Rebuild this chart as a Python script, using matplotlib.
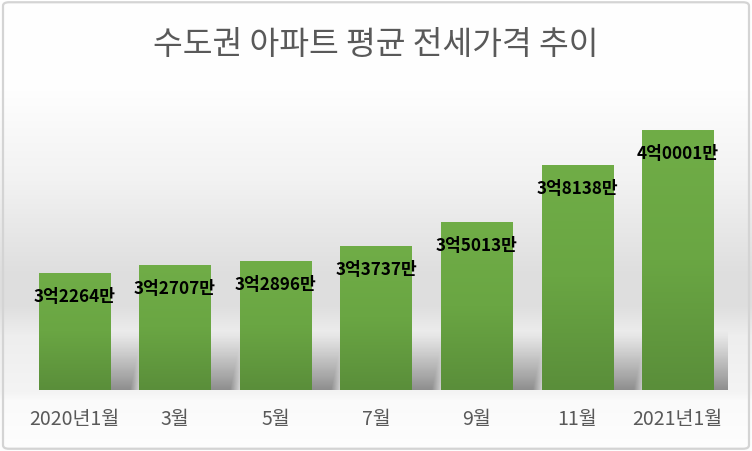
import numpy as np
import matplotlib
matplotlib.use('Agg')
import matplotlib.pyplot as plt
from matplotlib.patches import FancyBboxPatch
from matplotlib.colors import LinearSegmentedColormap

plt.rcParams['font.family'] = ['Noto Sans CJK KR', 'DejaVu Sans']

# ---- data ----
title = '수도권 아파트 평균 전세가격 추이'
categories = ['2020년1월', '3월', '5월', '7월', '9월', '11월', '2021년1월']
values = [32264, 32707, 32896, 33737, 35013, 38138, 40001]   # 만원
value_labels = ['3억2264만', '3억2707만', '3억2896만', '3억3737만',
                '3억5013만', '3억8138만', '4억0001만']

W, H = 752, 451
fig = plt.figure(figsize=(W / 100, H / 100), dpi=100)

# ---- background gradient ----
bg = fig.add_axes([0, 0, 1, 1], zorder=0)
bg.set_axis_off()
ys = np.arange(H)
prof = np.interp(ys, [0, 90, 180, 270, 305, 335, 392, 400, 451],
                 [255, 254, 242, 223, 222, 238, 244, 250, 254]) / 255.0
img = np.repeat(prof[:, None], 2, axis=1)
bg.imshow(np.dstack([img] * 3), aspect='auto', extent=[0, 1, 0, 1], origin='upper')
bg.set_xlim(0, 1)
bg.set_ylim(0, 1)
bg.add_patch(FancyBboxPatch((0.004, 0.005), 0.992, 0.99,
                            boxstyle='round,pad=0,rounding_size=0.008',
                            transform=bg.transAxes, fill=False,
                            ec='#d4d4d4', lw=1.6))

# ---- main axes ----
ax_left, ax_right, ax_bottom, ax_top = 24, 728, 390, 90
ax = fig.add_axes([ax_left / W, (H - ax_bottom) / H,
                   (ax_right - ax_left) / W, (ax_bottom - ax_top) / H], zorder=1)
ax.patch.set_alpha(0)
ymin, ymax = 25900, 42200
x = np.arange(len(categories))
bw = 0.706

bars = ax.bar(x, np.array(values) - ymin, bottom=ymin, width=bw,
              color='#68a443', zorder=3)

dx = 1.0 / ((ax_right - ax_left) / len(categories))     # data per px (x)
dy = (ymax - ymin) / (ax_bottom - ax_top)               # data per px (y)

# shadows
sh_h = 60
for xi in x:
    wpx = bw / dx
    ext_px = 70
    nu = int(wpx + ext_px)
    u = np.arange(nu)[None, :] + 0.5
    v = np.arange(sh_h)[:, None] + 0.5
    left = 6 + 0.35 * v
    right = wpx + 34 + 0.2 * v
    ramp = 14.0
    e1 = np.clip((u - left) / ramp, 0, 1)
    e2 = np.clip((right - u) / ramp, 0, 1)
    a = 0.42 * (1 - v / sh_h) ** 1.1 * e1 * e2
    rgba = np.zeros((sh_h, nu, 4))
    rgba[..., 3] = a
    x0 = xi - bw / 2
    ax.imshow(rgba, origin='lower', aspect='auto', interpolation='bilinear',
              extent=[x0, x0 + nu * dx, ymin, ymin + sh_h * dy], zorder=2)

# bar gradients
cmap = LinearSegmentedColormap.from_list('g', ['#5a8e3a', '#6aa643', '#70ad47'])
grad = np.linspace(0, 1, 256)[:, None]
for b in bars:
    x0, w = b.get_x(), b.get_width()
    y0, h = b.get_y(), b.get_height()
    im = ax.imshow(grad, cmap=cmap, origin='lower', aspect='auto',
                   extent=[x0, x0 + w, y0, y0 + h], zorder=3.5)
    im.set_clip_path(b)

for xi, v, lbl in zip(x, values, value_labels):
    ax.annotate(lbl, (xi, v), xytext=(0, -24), textcoords='offset pixels',
                ha='center', va='center', fontsize=12.3, fontweight='bold',
                color='black', zorder=5)

ax.set_xlim(-0.5, len(categories) - 0.5)
ax.set_ylim(ymin, ymax)
ax.set_xticks(x, categories, fontsize=14, color='#595959')
ax.set_yticks([])
ax.tick_params(axis='x', length=0, pad=14)
for s in ax.spines.values():
    s.set_visible(False)

fig.text(0.5, 1 - 45 / H, title, ha='center', va='center',
         fontsize=23.3, color='#595959')

fig.savefig('out.png', dpi=100)
